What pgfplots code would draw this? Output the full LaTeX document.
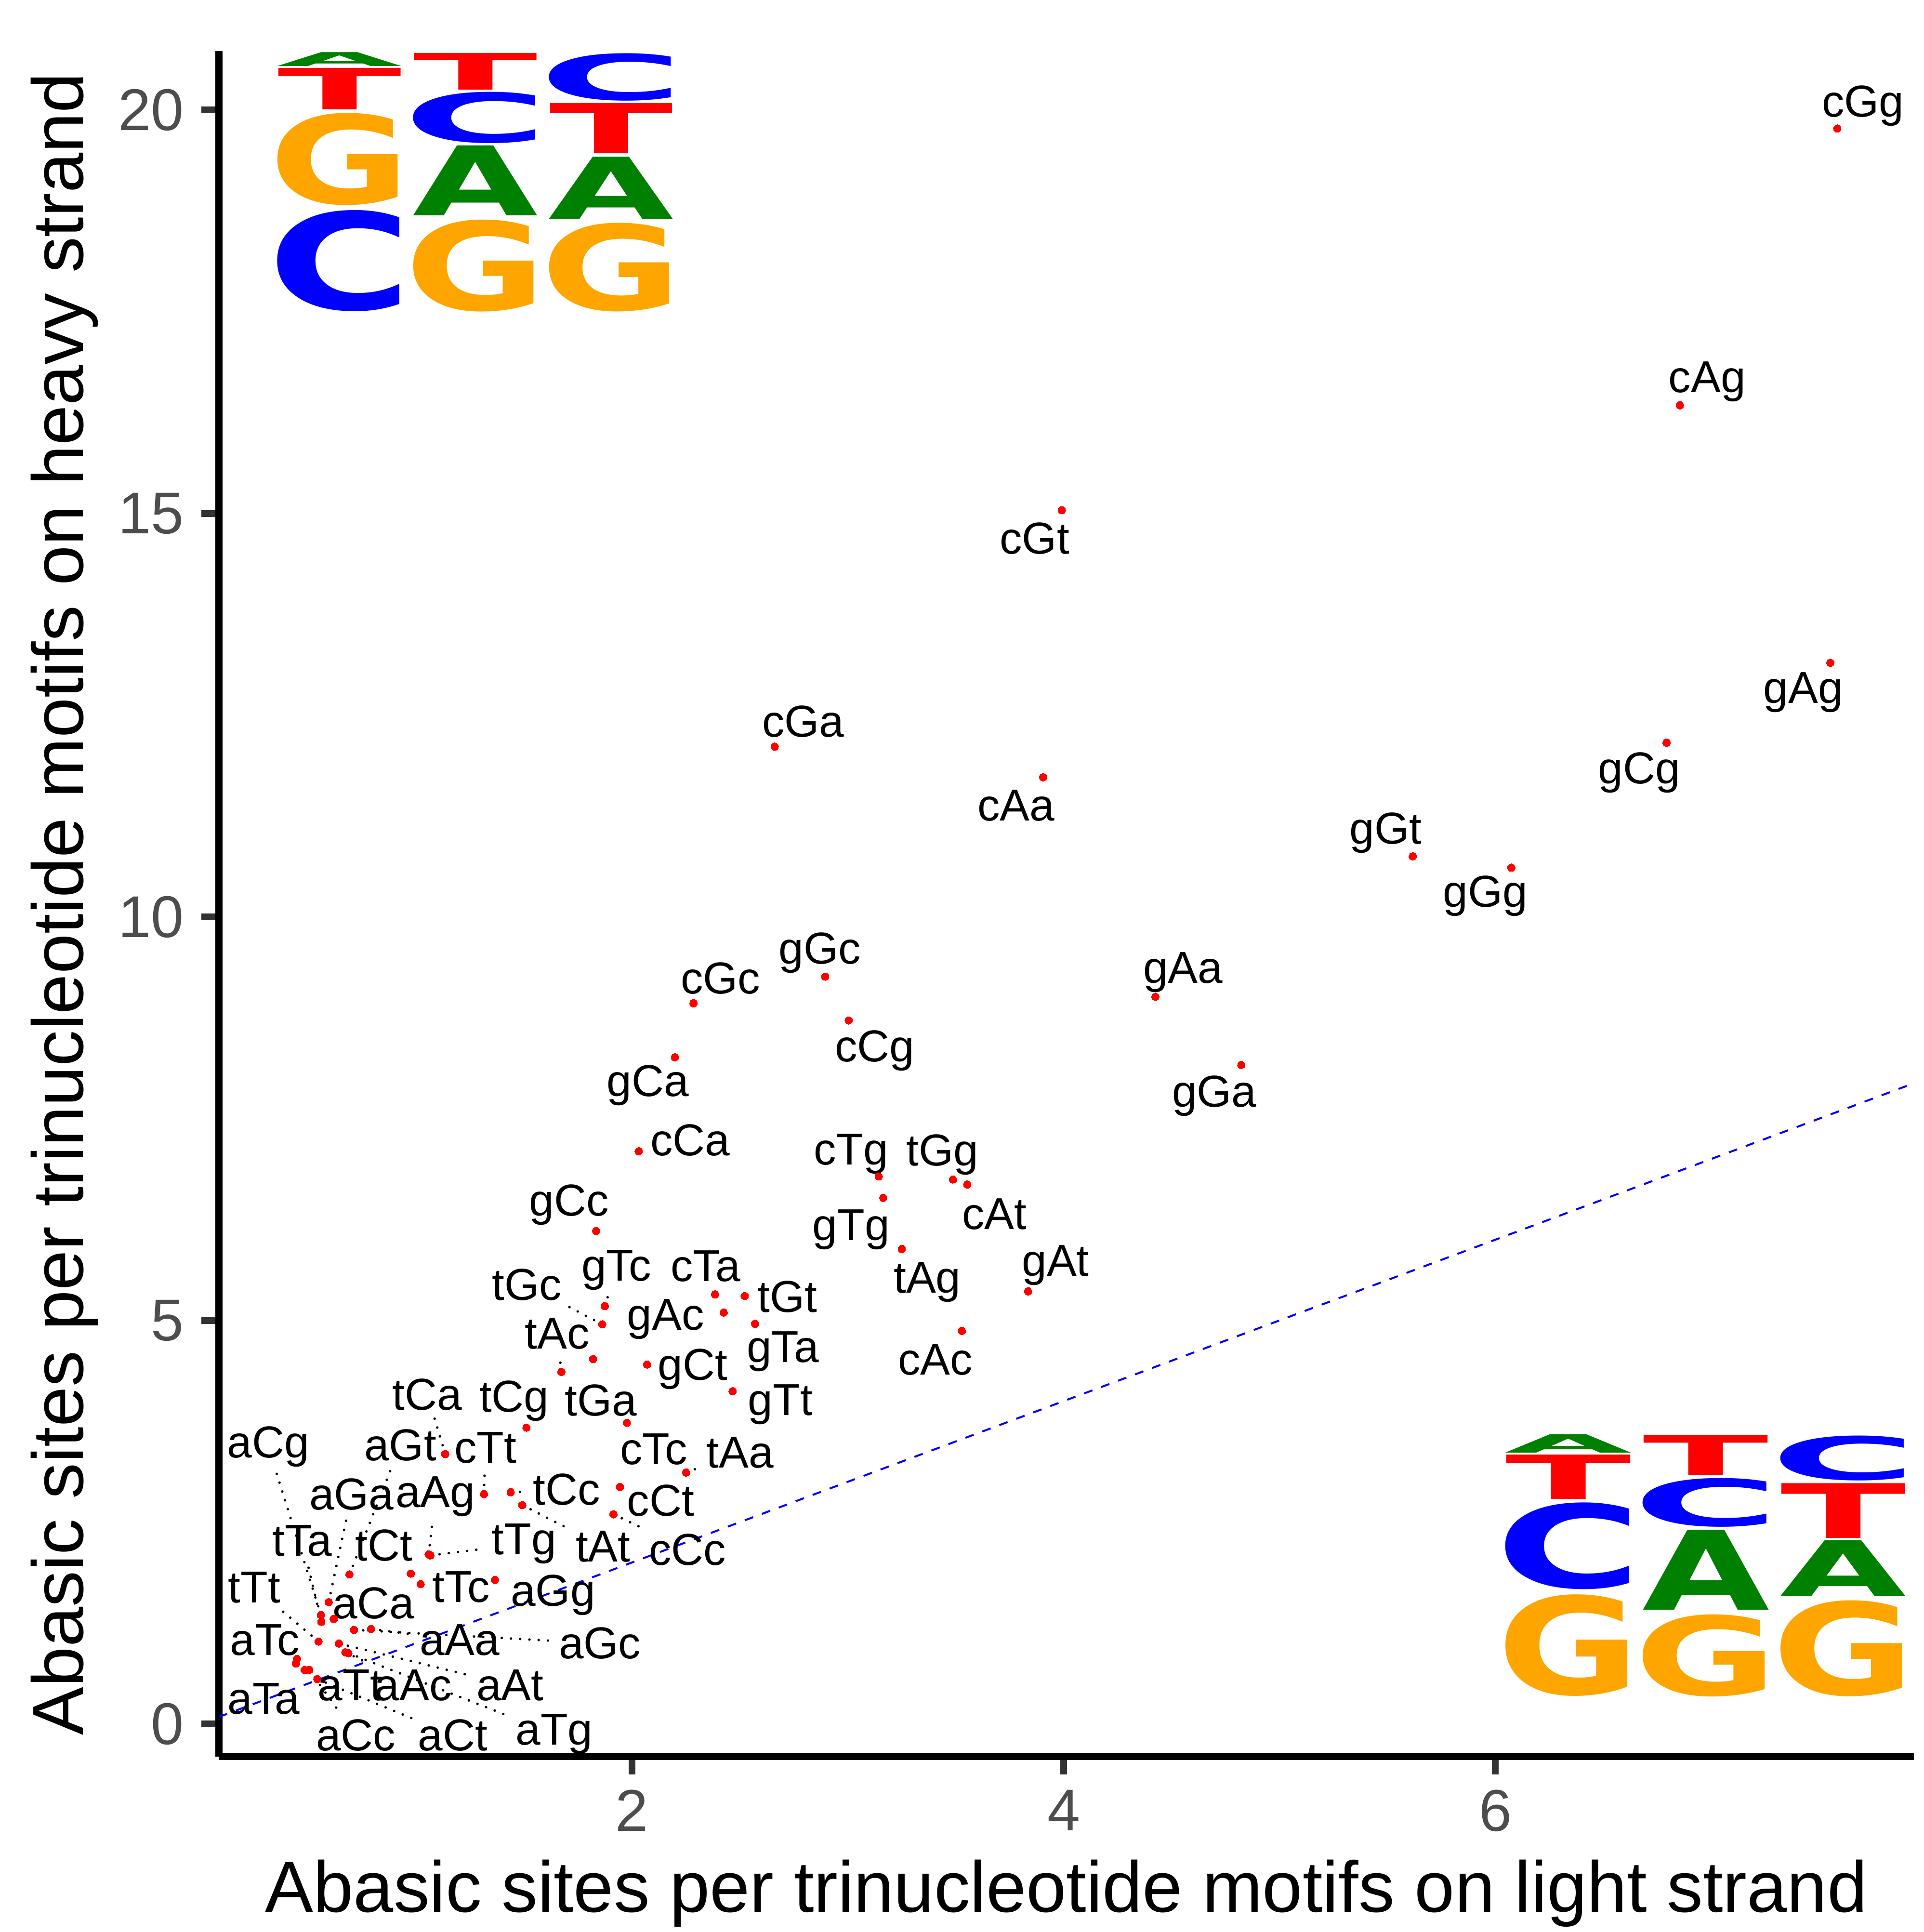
\documentclass[border=0pt]{standalone}
\usepackage{fontspec}
\setmainfont{Liberation Sans}
\newfontfamily\logofont{DejaVu Sans}
\usepackage{graphicx}
\usepackage{pgfplots}
\pgfplotsset{compat=1.18}
\usepackage{pgfplotstable}
\definecolor{logoorange}{HTML}{FFA500}
\definecolor{logogreen}{HTML}{008000}
\definecolor{tickgrey}{HTML}{333333}
\definecolor{labgrey}{HTML}{4D4D4D}
\tikzset{
  lab/.style={font=\fontsize{11.6}{11.6}\selectfont, inner sep=1.5pt, anchor=center},
  seg/.style={black, line width=0.65pt, line cap=round, dash pattern=on 0pt off 2.4pt},
}

\pgfplotstableread{
x y
7.584 19.77
6.855 16.34
3.991 15.04
7.552 13.15
6.793 12.16
2.661 12.11
3.905 11.73
5.617 10.75
6.074 10.61
2.895 9.26
4.425 9.011
3.004 8.717
4.823 8.166
2.285 8.93
2.199 8.26
2.031 7.096
3.143 6.783
3.487 6.746
3.553 6.684
3.164 6.518
3.250 5.885
3.835 5.360
3.528 4.870
1.834 6.108
1.874 5.177
1.862 4.950
2.385 5.322
2.522 5.302
2.425 5.097
2.570 4.958
1.673 4.362
2.070 4.453
2.466 4.123
1.820 4.521
1.976 3.731
1.511 3.671
1.135 3.343
1.314 2.846
2.251 3.115
1.944 2.936
1.438 2.870
1.492 2.711
1.914 2.597
1.066 2.088
1.058 2.100
0.559 1.348
0.691 1.851
0.595 1.508
0.975 1.862
1.021 1.732
1.365 1.784
0.561 1.265
0.548 1.020
0.618 1.301
0.448 0.807
0.791 1.175
0.712 1.165
0.483 0.668
0.642 0.996
0.672 0.887
0.443 0.748
0.505 0.668
0.542 0.555
0.686 0.877
}\pts

\newcommand{\LL}[8]{%
  \pgfmathsetmacro\bw{(#6-#5)/#4}%
  \pgfmathsetmacro\bx{#5-#3*\bw}%
  \pgfmathsetmacro\bh{#8-#7}%
  \node[anchor=south west, inner sep=0pt, outer sep=0pt, text=#1] at (\bx pt, #7 pt) {\resizebox*{\bw pt}{\bh pt}{\logofont\bfseries #2}};%
}
\newcommand{\LA}[5]{\LL{logogreen}{A}{0.013}{0.975}{#2}{#3}{#4}{#5}}
\newcommand{\LC}[5]{\LL{blue}{C}{0.075}{0.847}{#2}{#3}{#4}{#5}}
\newcommand{\LG}[5]{\LL{logoorange}{G}{0.067}{0.865}{#2}{#3}{#4}{#5}}
\newcommand{\LT}[5]{\LL{red}{T}{0.007}{0.986}{#2}{#3}{#4}{#5}}

\begin{document}
\begin{tikzpicture}
\begin{axis}[
  at={(0pt,0pt)}, anchor=south west,
  scale only axis, width=439.9pt, height=442.5pt,
  xmin=0.086, xmax=7.94, ymin=-0.406, ymax=20.73,
  axis x line*=bottom, axis y line*=left,
  axis line style={black, line width=1.8pt},
  xtick={2,4,6}, ytick={0,5,10,15,20},
  tick align=outside, major tick length=4.6pt,
  tick style={tickgrey, line width=1.75pt},
  minor tick num=0,
  /pgf/number format/assume math mode=true,
  ticklabel style={font=\fontsize{15.3}{15.3}\selectfont, text=labgrey},
  xticklabel style={anchor=north, inner sep=0pt, yshift=-3.8pt},
  yticklabel style={anchor=east, inner sep=0pt, xshift=-4.3pt},
  clip=false,
]
\addplot[blue, line width=0.5pt, dash pattern=on 2.3pt off 2.4pt] coordinates {(0.086,0.086) (7.94,7.94)};
\addplot[only marks, mark=*, mark size=1.0pt, color=red, mark options={draw=red, fill=red, line width=0pt}] table[x=x, y=y] {\pts};

\node[lab] (cGg) at (axis cs:7.703,20.05) {cGg};
\node[lab] (cAg) at (axis cs:6.981,16.63) {cAg};
\node[lab] (cGt) at (axis cs:3.865,14.69) {cGt};
\node[lab] (gAg) at (axis cs:7.426,12.78) {gAg};
\node[lab] (gCg) at (axis cs:6.667,11.79) {gCg};
\node[lab] (cGa) at (axis cs:2.793,12.42) {cGa};
\node[lab] (cAa) at (axis cs:3.780,11.38) {cAa};
\node[lab] (gGt) at (axis cs:5.492,11.04) {gGt};
\node[lab] (gGg) at (axis cs:5.954,10.26) {gGg};
\node[lab] (gGc) at (axis cs:2.870,9.555) {gGc};
\node[lab] (gAa) at (axis cs:4.553,9.31) {gAa};
\node[lab] (cCg) at (axis cs:3.124,8.34) {cCg};
\node[lab] (gGa) at (axis cs:4.698,7.78) {gGa};
\node[lab] (cGc) at (axis cs:2.410,9.24) {cGc};
\node[lab] (gCa) at (axis cs:2.074,7.91) {gCa};
\node[lab] (cCa) at (axis cs:2.270,7.233) {cCa};
\node[lab] (cTg) at (axis cs:3.015,7.062) {cTg};
\node[lab] (tGg) at (axis cs:3.438,7.050) {tGg};
\node[lab] (cAt) at (axis cs:3.679,6.319) {cAt};
\node[lab] (gTg) at (axis cs:3.015,6.125) {gTg};
\node[lab] (tAg) at (axis cs:3.368,5.474) {tAg};
\node[lab] (gAt) at (axis cs:3.962,5.68) {gAt};
\node[lab] (cAc) at (axis cs:3.406,4.516) {cAc};
\node[lab] (gCc) at (axis cs:1.708,6.43) {gCc};
\node[lab] (gTc) at (axis cs:1.927,5.621) {gTc};
\node[lab] (tGc) at (axis cs:1.514,5.442) {tGc};
\node[lab] (cTa) at (axis cs:2.341,5.670) {cTa};
\node[lab] (tGt) at (axis cs:2.719,5.292) {tGt};
\node[lab] (gAc) at (axis cs:2.156,5.014) {gAc};
\node[lab] (gTa) at (axis cs:2.699,4.616) {gTa};
\node[lab] (tAc) at (axis cs:1.653,4.835) {tAc};
\node[lab] (gCt) at (axis cs:2.281,4.397) {gCt};
\node[lab] (gTt) at (axis cs:2.687,3.960) {gTt};
\node[lab] (tGa) at (axis cs:1.856,4.010) {tGa};
\node[lab] (cTc) at (axis cs:2.100,3.403) {cTc};
\node[lab] (tCg) at (axis cs:1.454,3.999) {tCg};
\node[lab] (tCa) at (axis cs:1.052,4.08) {tCa};
\node[lab] (cTt) at (axis cs:1.321,3.423) {cTt};
\node[lab] (tAa) at (axis cs:2.500,3.363) {tAa};
\node[lab] (cCt) at (axis cs:2.133,2.767) {cCt};
\node[lab] (tCc) at (axis cs:1.697,2.905) {tCc};
\node[lab] (tAt) at (axis cs:1.866,2.200) {tAt};
\node[lab] (cCc) at (axis cs:2.257,2.160) {cCc};
\node[lab] (tTg) at (axis cs:1.500,2.229) {tTg};
\node[lab] (aAg) at (axis cs:1.089,2.816) {aAg};
\node[lab] (aCg) at (axis cs:0.315,3.433) {aCg};
\node[lab] (aGt) at (axis cs:0.927,3.453) {aGt};
\node[lab] (aGa) at (axis cs:0.701,2.846) {aGa};
\node[lab] (tCt) at (axis cs:0.851,2.209) {tCt};
\node[lab] (tTc) at (axis cs:1.208,1.693) {tTc};
\node[lab] (aGg) at (axis cs:1.634,1.594) {aGg};
\node[lab] (tTa) at (axis cs:0.472,2.269) {tTa};
\node[lab] (tTt) at (axis cs:0.250,1.693) {tTt};
\node[lab] (aCa) at (axis cs:0.802,1.493) {aCa};
\node[lab] (aTc) at (axis cs:0.299,1.036) {aTc};
\node[lab] (aAa) at (axis cs:1.202,1.036) {aAa};
\node[lab] (aGc) at (axis cs:1.851,0.997) {aGc};
\node[lab] (aTa) at (axis cs:0.294,0.310) {aTa};
\node[lab] (aAt) at (axis cs:1.435,0.479) {aAt};
\node[lab] (aAc) at (axis cs:0.986,0.479) {aAc};
\node[lab] (aTt) at (axis cs:0.694,0.479) {aTt};
\node[lab] (aCc) at (axis cs:0.721,-0.141) {aCc};
\node[lab] (aCt) at (axis cs:1.170,-0.141) {aCt};
\node[lab] (aTg) at (axis cs:1.640,-0.125) {aTg};

\draw[seg] (axis cs:1.862,4.950) -- (tGc);
\draw[seg] (axis cs:1.874,5.177) -- (gTc);
\draw[seg] (axis cs:1.673,4.362) -- (tAc);
\draw[seg] (axis cs:1.135,3.343) -- (tCa);
\draw[seg] (axis cs:1.314,2.846) -- (cTt);
\draw[seg] (axis cs:2.251,3.115) -- (tAa);
\draw[seg] (axis cs:1.438,2.870) -- (tCc);
\draw[seg] (axis cs:1.492,2.711) -- (tAt);
\draw[seg] (axis cs:1.914,2.597) -- (cCc);
\draw[seg] (axis cs:1.066,2.088) -- (tTg);
\draw[seg] (axis cs:1.058,2.100) -- (aAg);
\draw[seg] (axis cs:0.559,1.348) -- (aCg);
\draw[seg] (axis cs:0.691,1.851) -- (aGt);
\draw[seg] (axis cs:0.595,1.508) -- (aGa);
\draw[seg] (axis cs:0.561,1.265) -- (tTa);
\draw[seg] (axis cs:0.548,1.020) -- (tTt);
\draw[seg] (axis cs:0.791,1.175) -- (aAa);
\draw[seg] (axis cs:0.712,1.165) -- (aGc);
\draw[seg] (axis cs:0.642,0.996) -- (aAt);
\draw[seg] (axis cs:0.672,0.887) -- (aAc);
\draw[seg] (axis cs:0.443,0.748) -- (aTt);
\draw[seg] (axis cs:0.505,0.668) -- (aCc);
\draw[seg] (axis cs:0.542,0.555) -- (aCt);
\draw[seg] (axis cs:0.686,0.877) -- (aTg);
\end{axis}

% axis titles
\node[font=\fontsize{18.7}{18.7}\selectfont, inner sep=0pt] at (219.95pt,-35.5pt) {Abasic sites per trinucleotide motifs on light strand};
\node[font=\fontsize{18.7}{18.7}\selectfont, inner sep=0pt, rotate=90] at (-40pt,221.25pt) {Abasic sites per trinucleotide motifs on heavy strand};

% top-left logo
\LC{}{15.44}{47.19}{375.0}{401.25}
\LG{}{15.44}{47.19}{402.5}{426.4}
\LT{}{15.44}{47.19}{427.25}{438.0}
\LA{}{15.44}{47.19}{438.5}{442.1}
\LG{}{50.75}{82.5}{374.9}{398.75}
\LA{}{50.75}{82.5}{399.75}{417.9}
\LC{}{50.75}{82.5}{418.6}{431.9}
\LT{}{50.75}{82.5}{432.4}{441.9}
\LG{}{85.94}{117.63}{374.9}{397.9}
\LA{}{85.94}{117.63}{398.9}{415.0}
\LT{}{85.94}{117.63}{415.9}{428.9}
\LC{}{85.94}{117.63}{429.6}{441.9}

% bottom-right logo
\LG{}{334.1}{366.3}{15.75}{42.1}
\LC{}{334.1}{366.3}{43.4}{65.9}
\LT{}{334.1}{366.3}{66.8}{78.3}
\LA{}{334.1}{366.3}{78.75}{83.5}
\LG{}{369.8}{402.0}{15.6}{36.9}
\LA{}{369.8}{402.0}{38.0}{58.75}
\LC{}{369.8}{402.0}{59.6}{72.25}
\LT{}{369.8}{402.0}{72.9}{83.4}
\LG{}{405.5}{437.6}{15.6}{40.5}
\LA{}{405.5}{437.6}{41.5}{56.0}
\LT{}{405.5}{437.6}{56.7}{70.9}
\LC{}{405.5}{437.6}{71.6}{83.25}

\pgfresetboundingbox
\path (-56.79pt,-45.5pt) rectangle (442.46pt,455.75pt);
\end{tikzpicture}
\end{document}
